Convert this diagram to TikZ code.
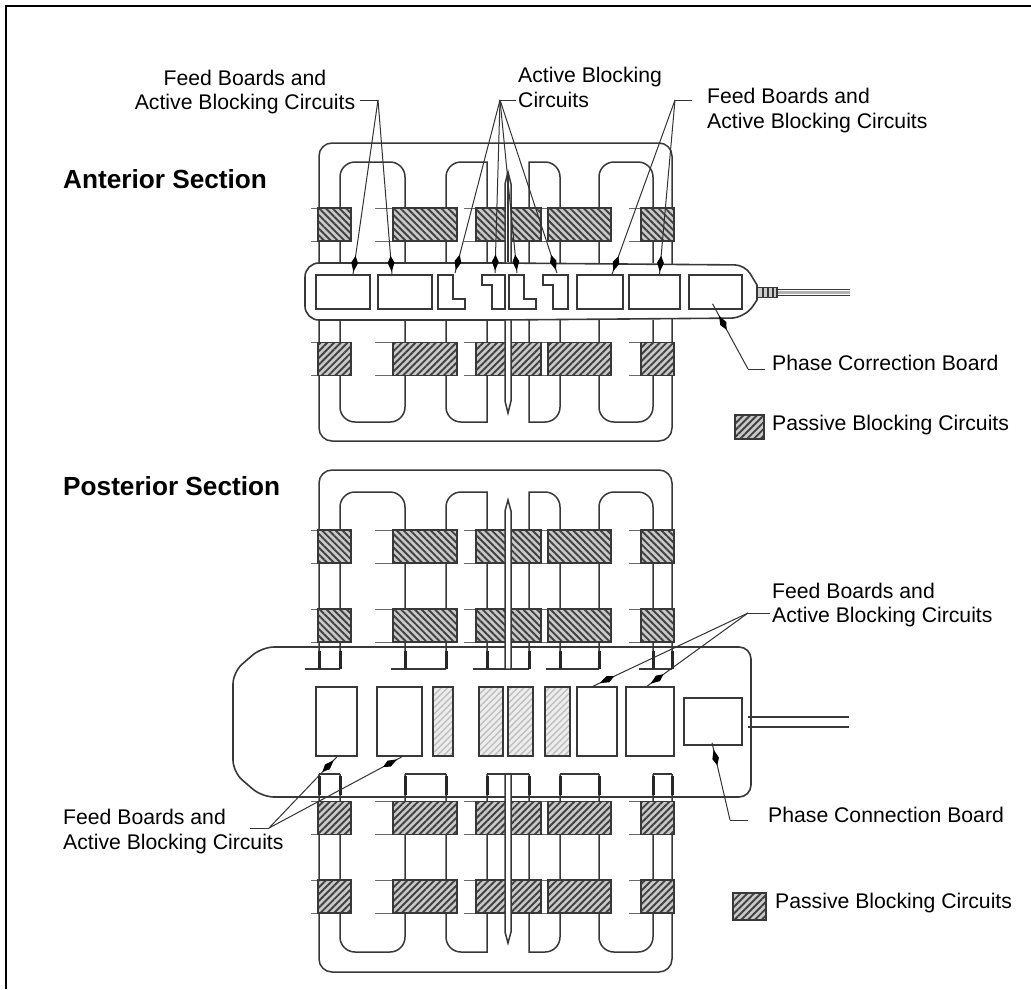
\documentclass[tikz,border=0pt]{standalone}
\usepackage{fontspec}
\setmainfont{Liberation Sans}
\usetikzlibrary{arrows.meta,patterns.meta,decorations.markings}
\definecolor{ink}{gray}{0.22}
\tikzset{
  x=1pt,y=-1pt,
  ln/.style={draw=ink,line width=1.5pt},
  whisk/.style={draw=ink!75,line width=1pt},
  boxx/.style={ln,fill=white,inner sep=0pt,minimum height=34pt,rectangle},
  tallbox/.style={ln,fill=white,inner sep=0pt,minimum height=69pt,rectangle},
  strip/.style={ln,inner sep=0pt,minimum height=69pt,rectangle,preaction={fill=gray!14},pattern={Lines[angle=45,distance=4.5pt,line width=1.4pt]},pattern color=gray!50},
  hatchnw/.style={draw=ink,line width=1.6pt,inner sep=0pt,minimum height=33pt,rectangle,preaction={fill=gray!42},
     pattern={Lines[angle=-45,distance=4.8pt,line width=1.9pt]},pattern color=black!75},
  hatchne/.style={draw=ink,line width=1.6pt,inner sep=0pt,minimum height=33pt,rectangle,preaction={fill=gray!42},
     pattern={Lines[angle=45,distance=4.8pt,line width=1.9pt]},pattern color=black!75},
  lab/.style={inner sep=0pt,font=\fontsize{21.2}{24.5}\selectfont,align=left,anchor=west},
  head/.style={inner sep=0pt,font=\fontsize{26.2}{30}\selectfont\bfseries,anchor=west},
  leader/.style={draw=black!80,line width=1pt,postaction={decorate},
     decoration={markings,mark=at position #1 with {\fill[black] (8,0)--(-1,3.4)--(-8,0)--(-1,-3.4)--cycle;}}},
  plainl/.style={draw=black!80,line width=1pt},
}
% one row of passive blocking blocks
\newcommand{\blockrow}[3]{%
  \draw[whisk] (311,#2-16.5)--(318,#2-16.5) (311,#2+16.5)--(318,#2+16.5);
  \draw[whisk] (375,#2-16.5)--(393,#2-16.5) (375,#2+16.5)--(393,#2+16.5);
  \draw[whisk] (464,#2-16.5)--(476,#2-16.5) (464,#2+16.5)--(476,#2+16.5);
  \draw[whisk] (541,#2-16.5)--(548,#2-16.5) (541,#2+16.5)--(548,#2+16.5);
  \draw[whisk] (629,#2-16.5)--(641,#2-16.5) (629,#2+16.5)--(641,#2+16.5);
  \node[#3,minimum width=33pt] (#1a) at (334.5,#2) {};
  \node[#3,minimum width=64pt] (#1b) at (425,#2) {};
  \node[#3,minimum width=32pt] (#1c) at (492,#2) {};
  \node[#3,minimum width=33pt] (#1d) at (524.5,#2) {};
  \node[#3,minimum width=63pt] (#1e) at (579.5,#2) {};
  \node[#3,minimum width=33pt] (#1f) at (657.5,#2) {};
}
% the four coils: #1 = free end of the legs, #2 = level of the arcs
\newcommand{\coilset}[2]{%
  \draw[ln] (340,#1) [rounded corners=15pt] -- (340,#2) -- (405,#2) [sharp corners] -- (405,#1);
  \draw[ln] (446,#1) [rounded corners=15pt] -- (446,#2) [sharp corners] -- (487,#2) -- (487,#1);
  \draw[ln] (529,#1) -- (529,#2) [rounded corners=15pt] -- (560,#2) [sharp corners] -- (560,#1);
  \draw[ln] (599,#1) [rounded corners=15pt] -- (599,#2) -- (653,#2) [sharp corners] -- (653,#1);
}
\begin{document}
\begin{tikzpicture}
\useasboundingbox (0,0) rectangle (1031,989);
\fill[white] (0,0) rectangle (1031,989);
\draw[black,line width=2pt] (5.5,989)--(5.5,5.5)--(1031,5.5);

%%%%%%%% anterior section
\draw[ln,rounded corners=13pt] (319,143) rectangle (672,441);
\coilset{263}{162}
\coilset{320}{422}
\blockrow{au}{224.5}{hatchnw}
\blockrow{al}{359}{hatchne}
\draw[ln,fill=white] (505,184)--(508,172)--(511,184)--(511,401)--(508,413)--(505,401)--cycle;
\draw[ink,line width=2.4pt] (508,174)--(508,262);
% connector and wire
\draw[ln] (850,289.5)--(775,289.5) (850,295.5)--(775,295.5);
\draw[draw=gray!60,line width=3pt] (775,292.5)--(850,292.5);
\node[draw=ink,fill=gray!40,line width=1.5pt,inner sep=0pt,minimum width=20pt,minimum height=10pt] (plug) at (767,292.5) {};
\draw[ink,line width=2pt] (763,287.5)--(763,297.5) (768,287.5)--(768,297.5) (773,287.5)--(773,297.5);
% board
\draw[ln,fill=white,line width=1.6pt,rounded corners=14pt] (500,263)--(305,263)--(305,320)--(500,320)--(745,318) [sharp corners] -- (757,300)--(757,285) [rounded corners=10pt] -- (745,265)--cycle;
\node[boxx,minimum width=54pt] (a1) at (343,292) {};
\node[boxx,minimum width=54pt] (a2) at (405,292) {};
\draw[ln,fill=white] (438,275)--(453,275)--(453,299)--(465,299)--(465,309)--(438,309)--cycle;
\draw[ln,fill=white] (482,275)--(505,275)--(505,309)--(492,309)--(492,285)--(482,285)--cycle;
\draw[ln,fill=white] (509,275)--(524,275)--(524,299)--(536,299)--(536,309)--(509,309)--cycle;
\draw[ln,fill=white] (543,275)--(568,275)--(568,309)--(553,309)--(553,285)--(543,285)--cycle;
\node[boxx,minimum width=46pt] (a3) at (600,292) {};
\node[boxx,minimum width=51pt] (a4) at (654.5,292) {};
\node[boxx,minimum width=53pt] (a5) at (715.5,292) {};

%%%%%%%% posterior section
\draw[ln,fill=white,line width=1.6pt,rounded corners=12pt] (500,647)--(751,647)--(751,797)--(262,797)--(233,772)--(233,672)--(262,647)--cycle;
\draw[ln,rounded corners=13pt] (319,669)--(319,470)--(672,470)--(672,669);
\draw[ln,rounded corners=13pt] (319,774)--(319,972)--(672,972)--(672,774);
\coilset{669}{492}
\coilset{774}{952}
\foreach \xa/\xb in {319/340,405/446,487/529,560/599,653/672}{
  \draw[ln] (\xa-14,669)--(\xb,669) (\xa,774)--(\xb,774);
  \draw[black!85,line width=3pt] (\xa,651)--(\xa,669) (\xb,651)--(\xb,669) (\xa,776)--(\xa,795) (\xb,776)--(\xb,795);
}
\blockrow{pa}{546.5}{hatchnw}
\blockrow{pb}{625.5}{hatchnw}
\blockrow{pc}{818}{hatchne}
\blockrow{pd}{896.5}{hatchne}
\draw[ln,fill=white] (505,669)--(505,511)--(508,500)--(511,511)--(511,669)--cycle;
\draw[ln,fill=white] (505,774)--(505,932)--(508,943)--(511,932)--(511,774)--cycle;
\node[tallbox,minimum width=41pt] (p1) at (336.5,721.5) {};
\node[tallbox,minimum width=45pt] (p2) at (399.5,721.5) {};
\node[strip,minimum width=20pt] (p3) at (443,721.5) {};
\node[strip,minimum width=24pt] (p4) at (491,721.5) {};
\node[strip,minimum width=25pt] (p5) at (520.5,721.5) {};
\node[strip,minimum width=25pt] (p6) at (557.5,721.5) {};
\node[tallbox,minimum width=40pt] (p7) at (597,721.5) {};
\node[tallbox,minimum width=48pt] (p8) at (650,721.5) {};
\node[ln,fill=white,inner sep=0pt,minimum width=58pt,minimum height=47pt] (p9) at (713,721.5) {};
\draw[ln] (748,717)--(849,717) (748,727)--(849,727);

%%%%%%%% legends
\node[hatchne,minimum width=29pt,minimum height=24pt] (leg1) at (749.5,427) {};
\node[hatchne,minimum width=33pt,minimum height=27pt] (leg2) at (749.5,906.5) {};

%%%%%%%% labels
\node[head] (anthead) at (63,179) {Anterior Section};
\node[head] (posthead) at (63,486) {Posterior Section};
\node[lab,align=center,anchor=center] (l1) at (245,92) {Feed Boards and\\Active Blocking Circuits};
\node[lab] (l2) at (518,87.5) {Active Blocking\\Circuits};
\node[lab] (l3) at (707,110.5) {Feed Boards and\\Active Blocking Circuits};
\node[lab] (l4) at (772,363) {Phase Correction Board};
\node[lab] (l5) at (772,425) {Passive Blocking Circuits};
\node[lab] (l6) at (772,605) {Feed Boards and\\Active Blocking Circuits};
\node[lab] (l7) at (768,815) {Phase Connection Board};
\node[lab] (l8) at (63,831.5) {Feed Boards and\\Active Blocking Circuits};
\node[lab] (l9) at (775,903) {Passive Blocking Circuits};

%%%%%%%% leaders
\coordinate (e1) at (378,100); \coordinate (e1s) at (360,100);
\draw[plainl] (e1s)--(e1);
\draw[leader=.94] (e1)--([xshift=10pt]a1.north);
\draw[leader=.94] (e1)--([xshift=-13pt]a2.north);
\coordinate (e2) at (500,100); \coordinate (e2s) at (516,100);
\coordinate (t1) at (455,273); \coordinate (t2) at (495,273); \coordinate (t3) at (517,273); \coordinate (t4) at (557,273);
\draw[plainl] (e2s)--(e2);
\foreach \t in {t1,t2,t3,t4}{\draw[leader=.94] (e2)--(\t);}
\coordinate (e3) at (675,100); \coordinate (e3s) at (692,100);
\draw[plainl] (e3s)--(e3);
\draw[leader=.94] (e3)--([xshift=12pt]a3.north);
\draw[leader=.94] (e3)--([xshift=5pt]a4.north);
\coordinate (e4) at (748,369); \coordinate (e4s) at (765,369);
\draw[plainl] (e4s)--(e4);
\draw[leader=.71] (e4)--([xshift=-3pt,yshift=6pt]a5.south);
\coordinate (e5) at (748,613); \coordinate (e5s) at (770,613);
\draw[plainl] (e5s)--(e5);
\draw[leader=.91] (e5)--([xshift=-4pt]p7.north);
\draw[leader=.90] (e5)--([xshift=-3pt]p8.north);
\coordinate (e6) at (730,820); \coordinate (e6s) at (748,820);
\draw[plainl] (e6s)--(e6);
\draw[leader=.81] (e6)--([xshift=-1pt,yshift=3pt]p9.south);
\coordinate (e7) at (269,828); \coordinate (e7s) at (250,828);
\draw[plainl] (e7s)--(e7);
\draw[leader=.87] (e7)--([xshift=.5pt]p1.south);
\draw[leader=.91] (e7)--([xshift=2.5pt]p2.south);
\end{tikzpicture}
\end{document}
